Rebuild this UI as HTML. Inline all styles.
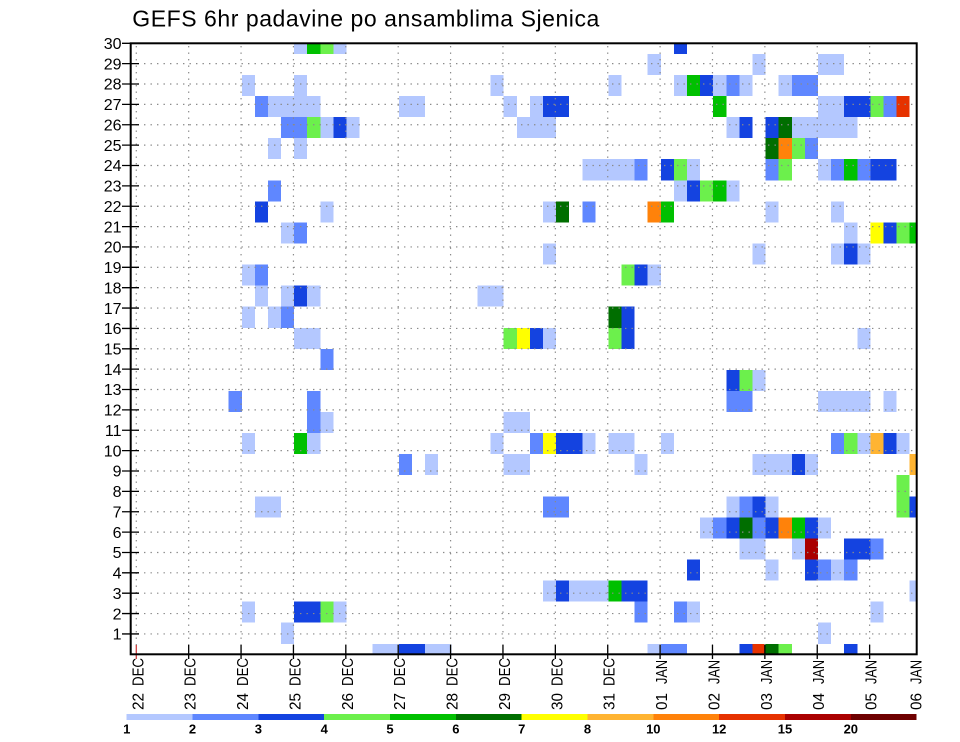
<!DOCTYPE html>
<html><head><meta charset="utf-8"><style>
html,body{margin:0;padding:0;background:#fff;}
svg{display:block;}
text{font-family:"Liberation Sans",Arial,sans-serif;fill:#000;}
.L{fill:#b4c8ff}.M{fill:#5f87ff}.D{fill:#1443e0}.LG{fill:#6cf04c}.G{fill:#00c000}.DG{fill:#006e00}
.Y{fill:#ffff00}.LO{fill:#ffb432}.O{fill:#ff820a}.R{fill:#e63200}.DR{fill:#aa0000}.DDR{fill:#6e0000}
</style></head><body>
<svg width="960" height="742" viewBox="0 0 960 742" xmlns="http://www.w3.org/2000/svg">
<rect x="0" y="0" width="960" height="742" fill="#fff"/>
<text x="132.3" y="26.7" font-size="23" textLength="467" lengthAdjust="spacing">GEFS 6hr padavine po ansamblima Sjenica</text>
<defs><clipPath id="pc" clipPathUnits="userSpaceOnUse"><rect x="130.7" y="43.3" width="786" height="611"/></clipPath></defs>
<g clip-path="url(#pc)">
<g transform="translate(137,643.8) scale(13.096,21.07)" shape-rendering="crispEdges">
<rect class="L" x="12" y="-29" width="1" height="1"/><rect class="G" x="13" y="-29" width="1" height="1"/><rect class="LG" x="14" y="-29" width="1" height="1"/><rect class="L" x="15" y="-29" width="1" height="1"/><rect class="D" x="41" y="-29" width="1" height="1"/>
<rect class="L" x="39" y="-28" width="1" height="1"/><rect class="L" x="47" y="-28" width="1" height="1"/><rect class="L" x="52" y="-28" width="2" height="1"/>
<rect class="L" x="8" y="-27" width="1" height="1"/><rect class="L" x="12" y="-27" width="1" height="1"/><rect class="L" x="27" y="-27" width="1" height="1"/><rect class="L" x="36" y="-27" width="1" height="1"/><rect class="L" x="41" y="-27" width="1" height="1"/><rect class="G" x="42" y="-27" width="1" height="1"/><rect class="D" x="43" y="-27" width="1" height="1"/><rect class="L" x="44" y="-27" width="1" height="1"/><rect class="M" x="45" y="-27" width="1" height="1"/><rect class="L" x="46" y="-27" width="1" height="1"/><rect class="L" x="49" y="-27" width="1" height="1"/><rect class="M" x="50" y="-27" width="2" height="1"/>
<rect class="M" x="9" y="-26" width="1" height="1"/><rect class="L" x="10" y="-26" width="4" height="1"/><rect class="L" x="20" y="-26" width="2" height="1"/><rect class="L" x="28" y="-26" width="1" height="1"/><rect class="L" x="30" y="-26" width="1" height="1"/><rect class="D" x="31" y="-26" width="2" height="1"/><rect class="G" x="44" y="-26" width="1" height="1"/><rect class="L" x="52" y="-26" width="2" height="1"/><rect class="D" x="54" y="-26" width="2" height="1"/><rect class="LG" x="56" y="-26" width="1" height="1"/><rect class="M" x="57" y="-26" width="1" height="1"/><rect class="R" x="58" y="-26" width="1" height="1"/>
<rect class="M" x="11" y="-25" width="2" height="1"/><rect class="LG" x="13" y="-25" width="1" height="1"/><rect class="L" x="14" y="-25" width="1" height="1"/><rect class="D" x="15" y="-25" width="1" height="1"/><rect class="L" x="16" y="-25" width="1" height="1"/><rect class="L" x="29" y="-25" width="3" height="1"/><rect class="L" x="45" y="-25" width="1" height="1"/><rect class="D" x="46" y="-25" width="1" height="1"/><rect class="D" x="48" y="-25" width="1" height="1"/><rect class="DG" x="49" y="-25" width="1" height="1"/><rect class="L" x="50" y="-25" width="5" height="1"/>
<rect class="L" x="10" y="-24" width="1" height="1"/><rect class="L" x="12" y="-24" width="1" height="1"/><rect class="DG" x="48" y="-24" width="1" height="1"/><rect class="O" x="49" y="-24" width="1" height="1"/><rect class="LG" x="50" y="-24" width="1" height="1"/><rect class="M" x="51" y="-24" width="1" height="1"/>
<rect class="L" x="34" y="-23" width="4" height="1"/><rect class="M" x="38" y="-23" width="1" height="1"/><rect class="D" x="40" y="-23" width="1" height="1"/><rect class="LG" x="41" y="-23" width="1" height="1"/><rect class="L" x="42" y="-23" width="1" height="1"/><rect class="M" x="48" y="-23" width="1" height="1"/><rect class="LG" x="49" y="-23" width="1" height="1"/><rect class="L" x="52" y="-23" width="1" height="1"/><rect class="M" x="53" y="-23" width="1" height="1"/><rect class="G" x="54" y="-23" width="1" height="1"/><rect class="M" x="55" y="-23" width="1" height="1"/><rect class="D" x="56" y="-23" width="2" height="1"/>
<rect class="M" x="10" y="-22" width="1" height="1"/><rect class="L" x="41" y="-22" width="1" height="1"/><rect class="D" x="42" y="-22" width="1" height="1"/><rect class="LG" x="43" y="-22" width="1" height="1"/><rect class="G" x="44" y="-22" width="1" height="1"/><rect class="L" x="45" y="-22" width="1" height="1"/>
<rect class="D" x="9" y="-21" width="1" height="1"/><rect class="L" x="14" y="-21" width="1" height="1"/><rect class="L" x="31" y="-21" width="1" height="1"/><rect class="DG" x="32" y="-21" width="1" height="1"/><rect class="M" x="34" y="-21" width="1" height="1"/><rect class="O" x="39" y="-21" width="1" height="1"/><rect class="G" x="40" y="-21" width="1" height="1"/><rect class="L" x="48" y="-21" width="1" height="1"/><rect class="L" x="53" y="-21" width="1" height="1"/>
<rect class="L" x="11" y="-20" width="1" height="1"/><rect class="M" x="12" y="-20" width="1" height="1"/><rect class="L" x="54" y="-20" width="1" height="1"/><rect class="Y" x="56" y="-20" width="1" height="1"/><rect class="D" x="57" y="-20" width="1" height="1"/><rect class="LG" x="58" y="-20" width="1" height="1"/><rect class="G" x="59" y="-20" width="1" height="1"/>
<rect class="L" x="31" y="-19" width="1" height="1"/><rect class="L" x="47" y="-19" width="1" height="1"/><rect class="L" x="53" y="-19" width="1" height="1"/><rect class="D" x="54" y="-19" width="1" height="1"/><rect class="L" x="55" y="-19" width="1" height="1"/>
<rect class="L" x="8" y="-18" width="1" height="1"/><rect class="M" x="9" y="-18" width="1" height="1"/><rect class="LG" x="37" y="-18" width="1" height="1"/><rect class="D" x="38" y="-18" width="1" height="1"/><rect class="L" x="39" y="-18" width="1" height="1"/>
<rect class="L" x="9" y="-17" width="1" height="1"/><rect class="L" x="11" y="-17" width="1" height="1"/><rect class="D" x="12" y="-17" width="1" height="1"/><rect class="L" x="13" y="-17" width="1" height="1"/><rect class="L" x="26" y="-17" width="2" height="1"/>
<rect class="L" x="8" y="-16" width="1" height="1"/><rect class="L" x="10" y="-16" width="1" height="1"/><rect class="M" x="11" y="-16" width="1" height="1"/><rect class="DG" x="36" y="-16" width="1" height="1"/><rect class="D" x="37" y="-16" width="1" height="1"/>
<rect class="L" x="12" y="-15" width="2" height="1"/><rect class="LG" x="28" y="-15" width="1" height="1"/><rect class="Y" x="29" y="-15" width="1" height="1"/><rect class="D" x="30" y="-15" width="1" height="1"/><rect class="L" x="31" y="-15" width="1" height="1"/><rect class="LG" x="36" y="-15" width="1" height="1"/><rect class="D" x="37" y="-15" width="1" height="1"/><rect class="L" x="55" y="-15" width="1" height="1"/>
<rect class="M" x="14" y="-14" width="1" height="1"/>
<rect class="D" x="45" y="-13" width="1" height="1"/><rect class="LG" x="46" y="-13" width="1" height="1"/><rect class="L" x="47" y="-13" width="1" height="1"/>
<rect class="M" x="7" y="-12" width="1" height="1"/><rect class="M" x="13" y="-12" width="1" height="1"/><rect class="M" x="45" y="-12" width="2" height="1"/><rect class="L" x="52" y="-12" width="4" height="1"/><rect class="L" x="57" y="-12" width="1" height="1"/>
<rect class="M" x="13" y="-11" width="1" height="1"/><rect class="L" x="14" y="-11" width="1" height="1"/><rect class="L" x="28" y="-11" width="2" height="1"/>
<rect class="L" x="8" y="-10" width="1" height="1"/><rect class="G" x="12" y="-10" width="1" height="1"/><rect class="L" x="13" y="-10" width="1" height="1"/><rect class="L" x="27" y="-10" width="1" height="1"/><rect class="M" x="30" y="-10" width="1" height="1"/><rect class="Y" x="31" y="-10" width="1" height="1"/><rect class="D" x="32" y="-10" width="2" height="1"/><rect class="L" x="34" y="-10" width="1" height="1"/><rect class="L" x="36" y="-10" width="2" height="1"/><rect class="L" x="40" y="-10" width="1" height="1"/><rect class="M" x="53" y="-10" width="1" height="1"/><rect class="LG" x="54" y="-10" width="1" height="1"/><rect class="L" x="55" y="-10" width="1" height="1"/><rect class="LO" x="56" y="-10" width="1" height="1"/><rect class="D" x="57" y="-10" width="1" height="1"/><rect class="L" x="58" y="-10" width="1" height="1"/>
<rect class="M" x="20" y="-9" width="1" height="1"/><rect class="L" x="22" y="-9" width="1" height="1"/><rect class="L" x="28" y="-9" width="2" height="1"/><rect class="L" x="38" y="-9" width="1" height="1"/><rect class="L" x="47" y="-9" width="3" height="1"/><rect class="D" x="50" y="-9" width="1" height="1"/><rect class="L" x="51" y="-9" width="1" height="1"/><rect class="LO" x="59" y="-9" width="1" height="1"/>
<rect class="LG" x="58" y="-8" width="1" height="1"/>
<rect class="L" x="9" y="-7" width="2" height="1"/><rect class="M" x="31" y="-7" width="2" height="1"/><rect class="L" x="45" y="-7" width="1" height="1"/><rect class="M" x="46" y="-7" width="1" height="1"/><rect class="D" x="47" y="-7" width="1" height="1"/><rect class="L" x="48" y="-7" width="1" height="1"/><rect class="LG" x="58" y="-7" width="1" height="1"/><rect class="D" x="59" y="-7" width="1" height="1"/>
<rect class="L" x="43" y="-6" width="1" height="1"/><rect class="M" x="44" y="-6" width="1" height="1"/><rect class="D" x="45" y="-6" width="1" height="1"/><rect class="DG" x="46" y="-6" width="1" height="1"/><rect class="M" x="47" y="-6" width="1" height="1"/><rect class="D" x="48" y="-6" width="1" height="1"/><rect class="O" x="49" y="-6" width="1" height="1"/><rect class="G" x="50" y="-6" width="1" height="1"/><rect class="D" x="51" y="-6" width="1" height="1"/><rect class="L" x="52" y="-6" width="1" height="1"/>
<rect class="L" x="46" y="-5" width="2" height="1"/><rect class="L" x="50" y="-5" width="1" height="1"/><rect class="DR" x="51" y="-5" width="1" height="1"/><rect class="D" x="54" y="-5" width="2" height="1"/><rect class="M" x="56" y="-5" width="1" height="1"/>
<rect class="D" x="42" y="-4" width="1" height="1"/><rect class="L" x="48" y="-4" width="1" height="1"/><rect class="D" x="51" y="-4" width="1" height="1"/><rect class="M" x="52" y="-4" width="1" height="1"/><rect class="L" x="53" y="-4" width="1" height="1"/><rect class="M" x="54" y="-4" width="1" height="1"/>
<rect class="L" x="31" y="-3" width="1" height="1"/><rect class="D" x="32" y="-3" width="1" height="1"/><rect class="L" x="33" y="-3" width="3" height="1"/><rect class="G" x="36" y="-3" width="1" height="1"/><rect class="D" x="37" y="-3" width="2" height="1"/><rect class="L" x="59" y="-3" width="1" height="1"/>
<rect class="L" x="8" y="-2" width="1" height="1"/><rect class="D" x="12" y="-2" width="2" height="1"/><rect class="LG" x="14" y="-2" width="1" height="1"/><rect class="L" x="15" y="-2" width="1" height="1"/><rect class="M" x="38" y="-2" width="1" height="1"/><rect class="M" x="41" y="-2" width="1" height="1"/><rect class="L" x="42" y="-2" width="1" height="1"/><rect class="L" x="56" y="-2" width="1" height="1"/>
<rect class="L" x="11" y="-1" width="1" height="1"/><rect class="L" x="52" y="-1" width="1" height="1"/>
<rect class="L" x="18" y="0" width="2" height="1"/><rect class="D" x="20" y="0" width="2" height="1"/><rect class="L" x="22" y="0" width="2" height="1"/><rect class="L" x="39" y="0" width="1" height="1"/><rect class="M" x="40" y="0" width="2" height="1"/><rect class="D" x="46" y="0" width="1" height="1"/><rect class="R" x="47" y="0" width="1" height="1"/><rect class="DG" x="48" y="0" width="1" height="1"/><rect class="LG" x="49" y="0" width="1" height="1"/><rect class="D" x="54" y="0" width="1" height="1"/>
</g>
</g>
<g stroke="#8a8a8a" stroke-width="1.2" stroke-dasharray="1.4 5.1" fill="none">
<path d="M131 633.93H916M131 613.57H916M131 593.2H916M131 572.83H916M131 552.47H916M131 532.1H916M131 511.73H916M131 491.36H916M131 471H916M131 450.63H916M131 430.26H916M131 409.9H916M131 389.53H916M131 369.16H916M131 348.8H916M131 328.43H916M131 308.06H916M131 287.7H916M131 267.33H916M131 246.96H916M131 226.59H916M131 206.23H916M131 185.86H916M131 165.49H916M131 145.13H916M131 124.76H916M131 104.39H916M131 84.03H916M131 63.66H916"/>
<path d="M136.3 46V654M188.68 46V654M241.06 46V654M293.44 46V654M345.82 46V654M398.2 46V654M450.58 46V654M502.96 46V654M555.34 46V654M607.72 46V654M660.1 46V654M712.48 46V654M764.86 46V654M817.24 46V654M869.62 46V654"/>
</g>
<g stroke="#000" stroke-width="1.3">
<path d="M122 633.93H139M122 613.57H139M122 593.2H139M122 572.83H139M122 552.47H139M122 532.1H139M122 511.73H139M122 491.36H139M122 471H139M122 450.63H139M122 430.26H139M122 409.9H139M122 389.53H139M122 369.16H139M122 348.8H139M122 328.43H139M122 308.06H139M122 287.7H139M122 267.33H139M122 246.96H139M122 226.59H139M122 206.23H139M122 185.86H139M122 165.49H139M122 145.13H139M122 124.76H139M122 104.39H139M122 84.03H139M122 63.66H139M122 43.3H139"/>
<path d="M188.68 645V659M241.06 645V659M293.44 645V659M345.82 645V659M398.2 645V659M450.58 645V659M502.96 645V659M555.34 645V659M607.72 645V659M660.1 645V659M712.48 645V659M764.86 645V659M817.24 645V659M869.62 645V659"/>
</g>
<path d="M136.3 645V659M133 654.3H143" stroke="#d04040" stroke-width="1.3"/>
<rect x="130.7" y="43.3" width="786" height="611" fill="none" stroke="#000" stroke-width="2"/>
<g font-size="16" text-anchor="end">
<text x="121.5" y="639.6">1</text><text x="121.5" y="619.3">2</text><text x="121.5" y="598.9">3</text><text x="121.5" y="578.5">4</text><text x="121.5" y="558.2">5</text><text x="121.5" y="537.8">6</text><text x="121.5" y="517.4">7</text><text x="121.5" y="497.1">8</text><text x="121.5" y="476.7">9</text><text x="121.5" y="456.3">10</text><text x="121.5" y="436">11</text><text x="121.5" y="415.6">12</text><text x="121.5" y="395.2">13</text><text x="121.5" y="374.9">14</text><text x="121.5" y="354.5">15</text><text x="121.5" y="334.1">16</text><text x="121.5" y="313.8">17</text><text x="121.5" y="293.4">18</text><text x="121.5" y="273">19</text><text x="121.5" y="252.7">20</text><text x="121.5" y="232.3">21</text><text x="121.5" y="211.9">22</text><text x="121.5" y="191.6">23</text><text x="121.5" y="171.2">24</text><text x="121.5" y="150.8">25</text><text x="121.5" y="130.5">26</text><text x="121.5" y="110.1">27</text><text x="121.5" y="89.7">28</text><text x="121.5" y="69.4">29</text><text x="121.5" y="49">30</text>
</g>
<g font-size="16">
<text transform="translate(143.3,710) rotate(-90)" textLength="17" lengthAdjust="spacingAndGlyphs">22</text><text transform="translate(143.3,686) rotate(-90)" textLength="28" lengthAdjust="spacingAndGlyphs">DEC</text>
<text transform="translate(195.7,710) rotate(-90)" textLength="17" lengthAdjust="spacingAndGlyphs">23</text><text transform="translate(195.7,686) rotate(-90)" textLength="28" lengthAdjust="spacingAndGlyphs">DEC</text>
<text transform="translate(248.1,710) rotate(-90)" textLength="17" lengthAdjust="spacingAndGlyphs">24</text><text transform="translate(248.1,686) rotate(-90)" textLength="28" lengthAdjust="spacingAndGlyphs">DEC</text>
<text transform="translate(300.4,710) rotate(-90)" textLength="17" lengthAdjust="spacingAndGlyphs">25</text><text transform="translate(300.4,686) rotate(-90)" textLength="28" lengthAdjust="spacingAndGlyphs">DEC</text>
<text transform="translate(352.8,710) rotate(-90)" textLength="17" lengthAdjust="spacingAndGlyphs">26</text><text transform="translate(352.8,686) rotate(-90)" textLength="28" lengthAdjust="spacingAndGlyphs">DEC</text>
<text transform="translate(405.2,710) rotate(-90)" textLength="17" lengthAdjust="spacingAndGlyphs">27</text><text transform="translate(405.2,686) rotate(-90)" textLength="28" lengthAdjust="spacingAndGlyphs">DEC</text>
<text transform="translate(457.6,710) rotate(-90)" textLength="17" lengthAdjust="spacingAndGlyphs">28</text><text transform="translate(457.6,686) rotate(-90)" textLength="28" lengthAdjust="spacingAndGlyphs">DEC</text>
<text transform="translate(510,710) rotate(-90)" textLength="17" lengthAdjust="spacingAndGlyphs">29</text><text transform="translate(510,686) rotate(-90)" textLength="28" lengthAdjust="spacingAndGlyphs">DEC</text>
<text transform="translate(562.3,710) rotate(-90)" textLength="17" lengthAdjust="spacingAndGlyphs">30</text><text transform="translate(562.3,686) rotate(-90)" textLength="28" lengthAdjust="spacingAndGlyphs">DEC</text>
<text transform="translate(614.7,710) rotate(-90)" textLength="17" lengthAdjust="spacingAndGlyphs">31</text><text transform="translate(614.7,686) rotate(-90)" textLength="28" lengthAdjust="spacingAndGlyphs">DEC</text>
<text transform="translate(667.1,710) rotate(-90)" textLength="17" lengthAdjust="spacingAndGlyphs">01</text><text transform="translate(667.1,684) rotate(-90)" textLength="24" lengthAdjust="spacingAndGlyphs">JAN</text>
<text transform="translate(719.5,710) rotate(-90)" textLength="17" lengthAdjust="spacingAndGlyphs">02</text><text transform="translate(719.5,684) rotate(-90)" textLength="24" lengthAdjust="spacingAndGlyphs">JAN</text>
<text transform="translate(771.9,710) rotate(-90)" textLength="17" lengthAdjust="spacingAndGlyphs">03</text><text transform="translate(771.9,684) rotate(-90)" textLength="24" lengthAdjust="spacingAndGlyphs">JAN</text>
<text transform="translate(824.2,710) rotate(-90)" textLength="17" lengthAdjust="spacingAndGlyphs">04</text><text transform="translate(824.2,684) rotate(-90)" textLength="24" lengthAdjust="spacingAndGlyphs">JAN</text>
<text transform="translate(876.6,710) rotate(-90)" textLength="17" lengthAdjust="spacingAndGlyphs">05</text><text transform="translate(876.6,684) rotate(-90)" textLength="24" lengthAdjust="spacingAndGlyphs">JAN</text>
<text transform="translate(921.7,710) rotate(-90)" textLength="17" lengthAdjust="spacingAndGlyphs">06</text><text transform="translate(921.7,684) rotate(-90)" textLength="24" lengthAdjust="spacingAndGlyphs">JAN</text>
</g>
<g shape-rendering="crispEdges">
<rect class="L" x="126.7" y="714" width="65.9" height="6"/>
<rect class="M" x="192.5" y="714" width="65.9" height="6"/>
<rect class="D" x="258.4" y="714" width="65.9" height="6"/>
<rect class="LG" x="324.2" y="714" width="65.9" height="6"/>
<rect class="G" x="390" y="714" width="65.9" height="6"/>
<rect class="DG" x="455.9" y="714" width="65.9" height="6"/>
<rect class="Y" x="521.7" y="714" width="65.9" height="6"/>
<rect class="LO" x="587.5" y="714" width="65.9" height="6"/>
<rect class="O" x="653.3" y="714" width="65.9" height="6"/>
<rect class="R" x="719.2" y="714" width="65.9" height="6"/>
<rect class="DR" x="785" y="714" width="65.9" height="6"/>
<rect class="DDR" x="850.8" y="714" width="65.9" height="6"/>
</g>
<g font-size="13" font-weight="bold" text-anchor="middle">
<text x="126.7" y="733.5">1</text><text x="192.5" y="733.5">2</text><text x="258.4" y="733.5">3</text><text x="324.2" y="733.5">4</text><text x="390" y="733.5">5</text><text x="455.9" y="733.5">6</text><text x="521.7" y="733.5">7</text><text x="587.5" y="733.5">8</text><text x="653.3" y="733.5">10</text><text x="719.2" y="733.5">12</text><text x="785" y="733.5">15</text><text x="850.8" y="733.5">20</text>
</g>
</svg>
</body></html>
